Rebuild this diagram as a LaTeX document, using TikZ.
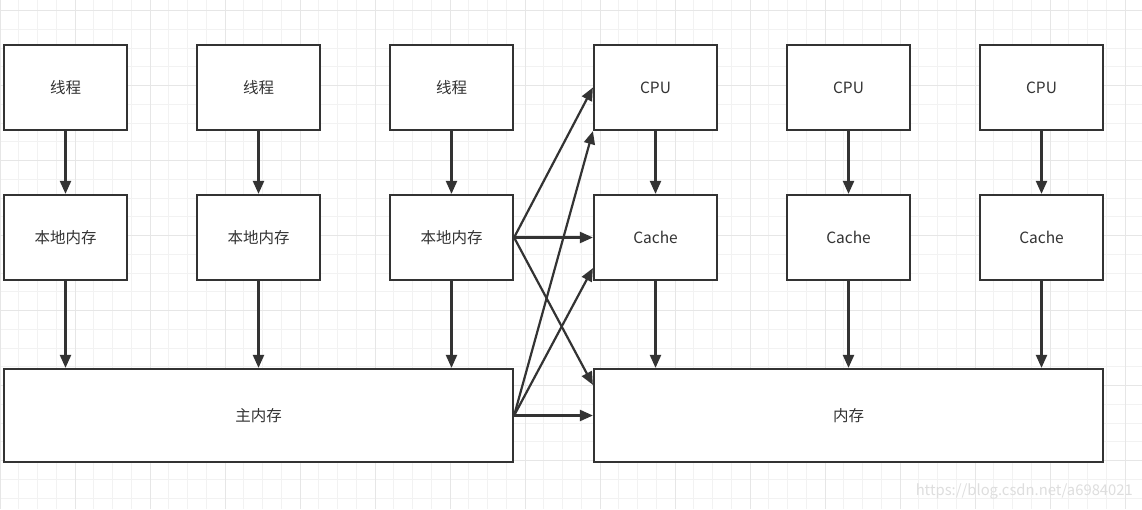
\documentclass[tikz,border=0pt]{standalone}
\usepackage{fontspec}
\setmainfont{Noto Sans CJK SC}
\usepackage{xcolor}
\usetikzlibrary{arrows.meta}

\definecolor{boxline}{HTML}{333333}
\definecolor{gridminor}{HTML}{F2F2F2}
\definecolor{gridmajor}{HTML}{E6E6E6}
\definecolor{marktext}{HTML}{DEDEDE}

\tikzset{
  cell/.style={draw=boxline, line width=2.2pt, fill=white, text=boxline,
    minimum width=123pt, minimum height=85pt, inner sep=0pt,
    font=\fontsize{15.5}{18}\selectfont},
  wide/.style={cell, minimum width=509pt, minimum height=93pt},
  arr/.style={draw=boxline, line width=2.2pt,
    -{Triangle[length=13pt,width=11pt]}},
}

\begin{document}
\begin{tikzpicture}[x=1pt,y=-1pt]
\useasboundingbox (0,0) rectangle (1142,509);
\fill[white] (0,0) rectangle (1142,509);
% background grid
\foreach \i in {0,...,61} \draw[gridminor, line width=0.9pt] (\i*18.75,0) -- (\i*18.75,509);
\foreach \j in {0,...,26} \draw[gridminor, line width=0.9pt] (0,10.5+\j*18.75) -- (1142,10.5+\j*18.75);
\foreach \i in {0,...,15} \draw[gridmajor, line width=0.9pt] (\i*75,0) -- (\i*75,509);
\foreach \j in {0,...,6} \draw[gridmajor, line width=0.9pt] (0,10.5+\j*75) -- (1142,10.5+\j*75);

% threads
\node[cell] (thread1) at (65.5,87.5) {线程};
\node[cell] (thread2) at (258.5,87.5) {线程};
\node[cell] (thread3) at (451.5,87.5) {线程};
\node[cell] (local1) at (65.5,237.5) {本地内存};
\node[cell] (local2) at (258.5,237.5) {本地内存};
\node[cell] (local3) at (451.5,237.5) {本地内存};
\node[wide] (mainmem) at (258.5,415.5) {主内存};

% processors
\node[cell] (cpu1) at (655.5,87.5) {CPU};
\node[cell] (cpu2) at (848.5,87.5) {CPU};
\node[cell] (cpu3) at (1041.5,87.5) {CPU};
\node[cell] (cache1) at (655.5,237.5) {Cache};
\node[cell] (cache2) at (848.5,237.5) {Cache};
\node[cell] (cache3) at (1041.5,237.5) {Cache};
\node[wide] (mem) at (848.5,415.5) {内存};

\draw[arr] (thread1) -- (local1);
\draw[arr] (thread2) -- (local2);
\draw[arr] (thread3) -- (local3);
\draw[arr] (local1.south) -- (local1.south |- mainmem.north);
\draw[arr] (local2.south) -- (local2.south |- mainmem.north);
\draw[arr] (local3.south) -- (local3.south |- mainmem.north);

\draw[arr] (cpu1) -- (cache1);
\draw[arr] (cpu2) -- (cache2);
\draw[arr] (cpu3) -- (cache3);
\draw[arr] (cache1.south) -- (cache1.south |- mem.north);
\draw[arr] (cache2.south) -- (cache2.south |- mem.north);
\draw[arr] (cache3.south) -- (cache3.south |- mem.north);

% crossing links
\draw[arr] (local3.east) -- (cpu1.west);
\draw[arr] (local3.east) -- (cache1.west);
\draw[arr] (local3.east) -- ([yshift=-17pt]mem.north west);
\draw[arr] (mainmem.east) -- (cpu1.south west);
\draw[arr] (mainmem.east) -- ([yshift=13pt]cache1.south west);
\draw[arr] (mainmem.east) -- (mem.west);

\node[text=marktext, anchor=east, font=\fontsize{14.8}{17}\selectfont, inner sep=0pt] (mark) at (1133,491) {https://blog.csdn.net/a6984021};
\end{tikzpicture}
\end{document}
